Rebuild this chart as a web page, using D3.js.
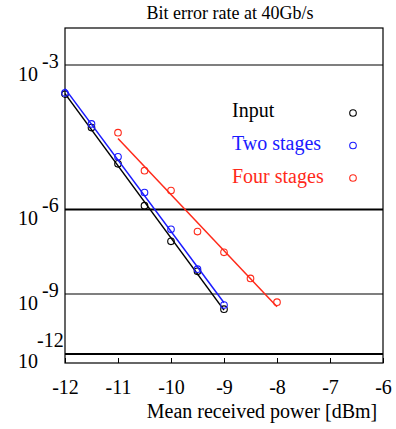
<!DOCTYPE html>
<html>
<head>
<meta charset="utf-8">
<script src="https://cdn.jsdelivr.net/npm/d3@7"></script>
<style>
  body { margin: 0; background: #fff; }
  svg text { font-family: "Liberation Serif", "Times New Roman", serif; }
</style>
</head>
<body>
<script>
// received power (dBm) for each series
const inputPower = [-12, -11.5, -11, -10.5, -10, -9.5, -9];
const twoPower   = [-12, -11.5, -11, -10.5, -10, -9.5, -9];
const fourPower  = [-11, -10.5, -10, -9.5, -9, -8.5, -8];
// BER exponent, log10(BER)
const inputBer = [-3.45, -4.05, -4.82, -5.89, -6.99, -8.07, -9.68];
const twoBer   = [-3.43, -3.98, -4.66, -5.53, -6.60, -7.99, -9.49];
const fourBer  = [-4.15, -4.98, -5.48, -6.67, -7.37, -8.35, -9.36];

const berTicks = [-3, -6, -9, -12];
const powerTicks = [-12, -11, -10, -9, -8, -7, -6];

const seriesNames = ["Input", "Two stages", "Four stages"];
const seriesColors = ["#000000", "#1a1aff", "#ff2a1a"];

const W = 396, H = 429;
const margin = {top: 28, right: 13, bottom: 66, left: 65};
const width = W - margin.left - margin.right,
      height = H - margin.top - margin.bottom;

const svg = d3.select("body").append("svg")
  .attr("width", W).attr("height", H)
  .attr("font-family", "Liberation Serif, serif");

const g = svg.append("g")
  .attr("transform", "translate(" + margin.left + "," + margin.top + ")");

const x = d3.scaleLinear().domain([-12, -6]).range([0, width]);
// BER axis: log(-log(BER))
const yLog = d3.scaleLog().domain([2.512, 12.53]).range([0, height]);
const y = e => yLog(-e);

// title
svg.append("text")
  .attr("x", 230).attr("y", 19)
  .attr("text-anchor", "middle")
  .attr("font-size", 18)
  .text("Bit error rate at 40Gb/s");

// horizontal reference lines
berTicks.forEach(t => {
  g.append("line")
    .attr("x1", 0).attr("x2", width)
    .attr("y1", y(t)).attr("y2", y(t))
    .attr("stroke", "#000")
    .attr("stroke-width", (t === -6 || t === -12) ? 2 : 1.1);
  const last = t === -12;
  const base = margin.top + y(t) + (last ? 14 : 16);
  const lab = svg.append("text").attr("font-size", 20);
  lab.append("tspan")
    .attr("x", 18).attr("y", base)
    .text("10");
  svg.append("text")
    .attr("font-size", 20)
    .attr("x", last ? 37 : 42).attr("y", last ? base - 21 : base - 13)
    .text(t);
});

// frame
g.append("rect")
  .attr("width", width).attr("height", height)
  .attr("fill", "none").attr("stroke", "#000").attr("stroke-width", 1.2);

// x axis
const xAxis = g.append("g")
  .attr("transform", "translate(0," + height + ")")
  .call(d3.axisBottom(x).tickValues(powerTicks).tickSize(-5).tickPadding(17)
    .tickFormat(d3.format("d")));
xAxis.select(".domain").remove();
xAxis.selectAll("line").attr("stroke", "#000").attr("stroke-width", 1);
xAxis.selectAll("text")
  .attr("font-size", 20)
  .attr("fill", "#000")
  .text(d => String(d));

svg.append("text")
  .attr("x", 262).attr("y", 418)
  .attr("text-anchor", "middle")
  .attr("font-size", 20)
  .text("Mean received power [dBm]");

// series
const series = [
  {px: inputPower, ber: inputBer},
  {px: twoPower, ber: twoBer},
  {px: fourPower, ber: fourBer}
];

series.forEach((s, i) => {
  const pts = s.px.map((p, j) => ({p: p, v: Math.log10(-s.ber[j])}));
  // least squares fit in plotting space
  const mx = d3.mean(pts, d => d.p), my = d3.mean(pts, d => d.v);
  const slope = d3.sum(pts, d => (d.p - mx) * (d.v - my)) / d3.sum(pts, d => (d.p - mx) ** 2);
  const fit = p => -Math.pow(10, my + slope * (p - mx));
  const ext = d3.extent(s.px);
  g.append("line")
    .attr("x1", x(ext[0])).attr("y1", y(fit(ext[0])))
    .attr("x2", x(ext[1])).attr("y2", y(fit(ext[1])))
    .attr("stroke", seriesColors[i]).attr("stroke-width", 1.5);

  g.selectAll(".dot" + i)
    .data(s.px.map((p, j) => ({p: p, b: s.ber[j]})))
    .enter().append("circle")
    .attr("cx", d => x(d.p))
    .attr("cy", d => y(d.b))
    .attr("r", 3.3)
    .attr("fill", "none")
    .attr("stroke", seriesColors[i])
    .attr("stroke-width", 1.1);
});

// legend
seriesNames.forEach((name, i) => {
  svg.append("text")
    .attr("x", 232).attr("y", 117 + i * 33)
    .attr("font-size", 20)
    .attr("fill", seriesColors[i])
    .text(name);
  svg.append("circle")
    .attr("cx", 353).attr("cy", 113 + i * 32.5)
    .attr("r", 3.3)
    .attr("fill", "none")
    .attr("stroke", seriesColors[i])
    .attr("stroke-width", 1.1);
});
</script>
</body>
</html>
